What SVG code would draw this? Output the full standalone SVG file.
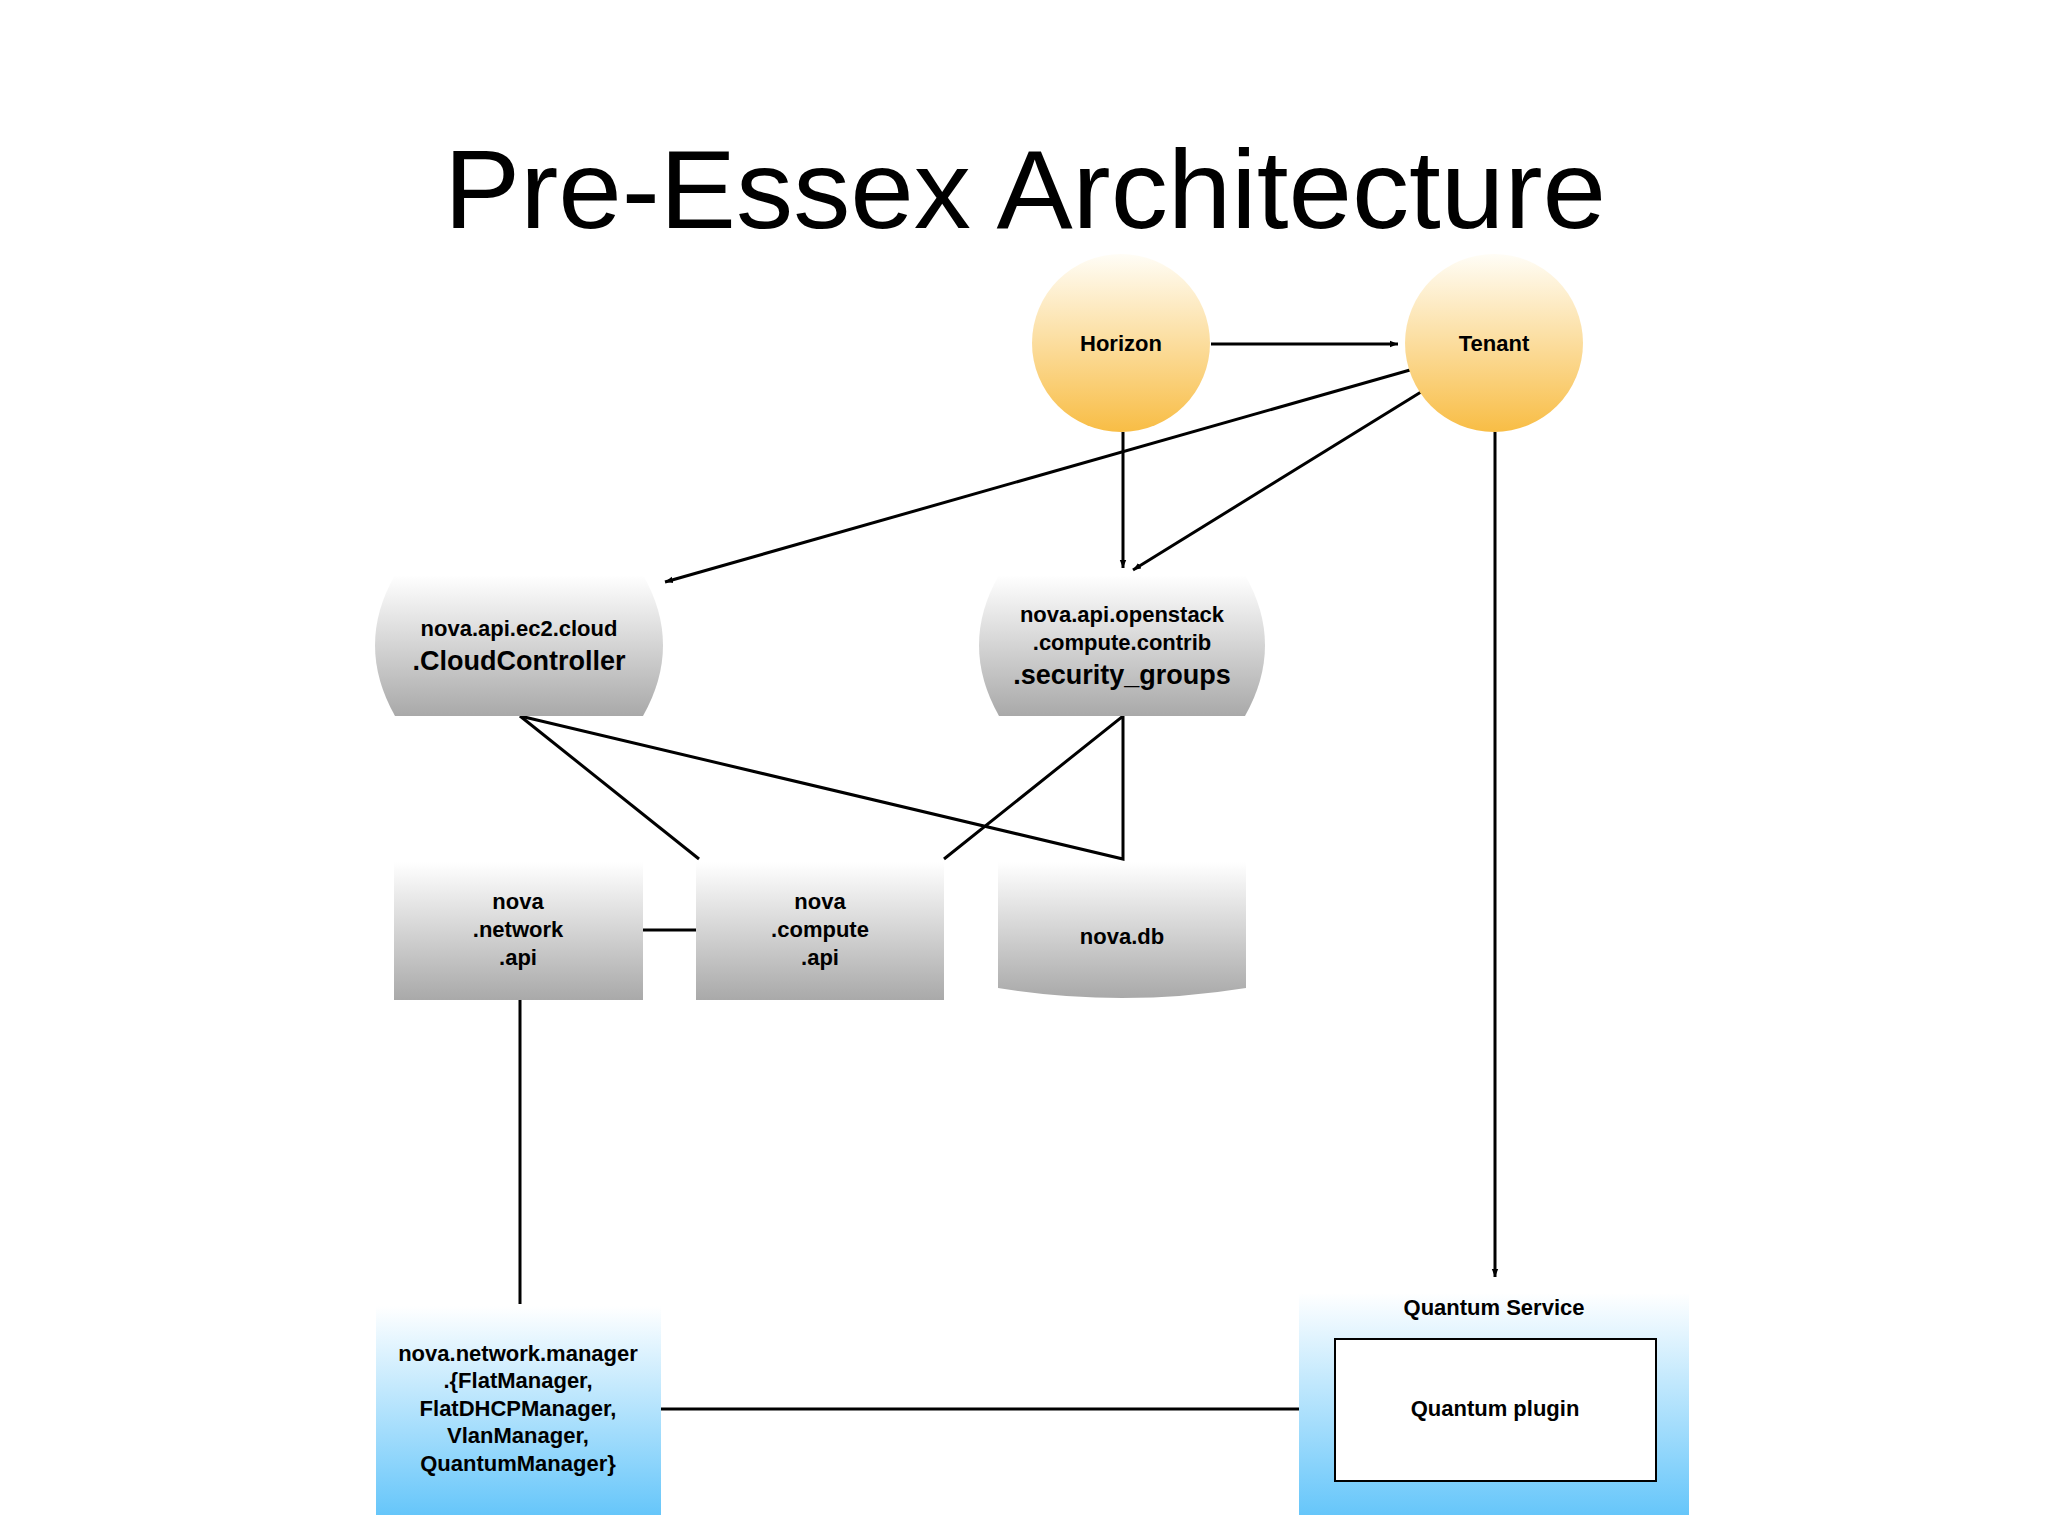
<svg xmlns="http://www.w3.org/2000/svg" width="2048" height="1536" viewBox="0 0 2048 1536">
<defs>
<linearGradient id="gGray" x1="0" y1="0" x2="0" y2="1"><stop offset="0" stop-color="#ffffff"/><stop offset="1" stop-color="#a9a9a9"/></linearGradient>
<linearGradient id="gOrange" x1="0" y1="0" x2="0" y2="1"><stop offset="0" stop-color="#fffdf6"/><stop offset="1" stop-color="#f8bd45"/></linearGradient>
<linearGradient id="gBlue" x1="0" y1="0" x2="0" y2="1"><stop offset="0" stop-color="#ffffff"/><stop offset="1" stop-color="#66c6fa"/></linearGradient>
<marker id="arr" viewBox="0 0 10 10" refX="10" refY="5" markerWidth="8" markerHeight="8" markerUnits="userSpaceOnUse" orient="auto"><path d="M0,1 L10,5 L0,9 Z" fill="#000"/></marker>
</defs>
<style>
text{font-family:"Liberation Sans",Arial,sans-serif;font-weight:bold;text-anchor:middle;fill:#000;font-size:22px}
.big{font-size:27px}
.ln{stroke:#000;stroke-width:3;fill:none}
.ar{marker-end:url(#arr)}
</style>
<rect width="2048" height="1536" fill="#fff"/>
<text x="1025" y="228" style="font-weight:normal;font-size:112px" textLength="1162" lengthAdjust="spacingAndGlyphs">Pre-Essex Architecture</text>
<g id="connectors">
<line class="ln ar" x1="1211" y1="344" x2="1398" y2="344"/>
<line class="ln ar" x1="1410" y1="370" x2="665" y2="582"/>
<line class="ln ar" x1="1123" y1="432" x2="1123" y2="568"/>
<line class="ln ar" x1="1421" y1="392" x2="1133" y2="570"/>
<line class="ln ar" x1="1495" y1="432" x2="1495" y2="1277"/>
<line class="ln" x1="520" y1="716" x2="699" y2="859"/>
<polyline class="ln" points="520,716 1123,859 1123,716 944,859"/>
<line class="ln" x1="643" y1="930" x2="698" y2="930"/>
<line class="ln" x1="520" y1="1000" x2="520" y2="1304"/>
<line class="ln" x1="661" y1="1409" x2="1335" y2="1409"/>
</g>
<g id="horizon"><circle cx="1121" cy="343" r="89" fill="url(#gOrange)"/><text x="1121" y="351">Horizon</text></g>
<g id="tenant"><circle cx="1494" cy="343" r="89" fill="url(#gOrange)"/><text x="1494" y="351">Tenant</text></g>
<g id="cloudcontroller"><path d="M395,575 L643,575 Q683,645 643,716 L395,716 Q355,645 395,575 Z" fill="url(#gGray)"/><text x="519" y="636">nova.api.ec2.cloud</text><text class="big" x="519" y="670">.CloudController</text></g>
<g id="secgroups"><path d="M999,575 L1245,575 Q1285,645 1245,716 L999,716 Q959,645 999,575 Z" fill="url(#gGray)"/><text x="1122" y="622">nova.api.openstack</text><text x="1122" y="650">.compute.contrib</text><text class="big" x="1122" y="684">.security_groups</text></g>
<g id="networkapi"><rect x="394" y="862" width="249" height="138" fill="url(#gGray)"/><text x="518" y="909">nova</text><text x="518" y="937">.network</text><text x="518" y="965">.api</text></g>
<g id="computeapi"><rect x="696" y="862" width="248" height="138" fill="url(#gGray)"/><text x="820" y="909">nova</text><text x="820" y="937">.compute</text><text x="820" y="965">.api</text></g>
<g id="novadb"><path d="M998,862 L1246,862 L1246,988 Q1122,1008 998,988 Z" fill="url(#gGray)"/><text x="1122" y="944">nova.db</text></g>
<g id="networkmanager"><rect x="376" y="1306" width="285" height="209" fill="url(#gBlue)"/><text x="518" y="1361">nova.network.manager</text><text x="518" y="1388">.{FlatManager,</text><text x="518" y="1416">FlatDHCPManager,</text><text x="518" y="1443">VlanManager,</text><text x="518" y="1471">QuantumManager}</text></g>
<g id="quantumservice"><rect x="1299" y="1293" width="390" height="222" fill="url(#gBlue)"/><text x="1494" y="1315">Quantum Service</text></g>
<g id="quantumplugin"><rect x="1335" y="1339" width="321" height="142" fill="#fff" stroke="#000" stroke-width="2"/><text x="1495" y="1416">Quantum plugin</text></g>
</svg>
